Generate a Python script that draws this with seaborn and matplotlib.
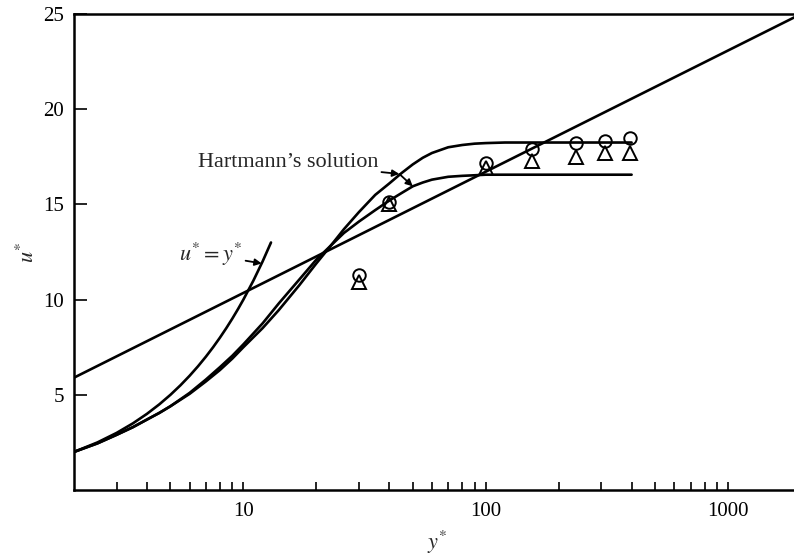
import matplotlib
matplotlib.use("Agg")
import matplotlib.pyplot as plt
import seaborn as sns
from matplotlib.ticker import FixedLocator, NullFormatter, FixedFormatter

# ---- data ----
loglaw_y = [2, 2000]
loglaw_u = [5.9, 25.0]

linear_y = [2, 2.5, 3, 3.5, 4, 4.5, 5, 5.5, 6, 6.5, 7, 7.5, 8, 8.5, 9, 9.5, 10, 11, 12, 13]
linear_u = [2, 2.5, 3, 3.5, 4, 4.5, 5, 5.5, 6, 6.5, 7, 7.5, 8, 8.5, 9, 9.5, 10, 11, 12, 13]

hart_y = [2, 2.5, 3, 3.5, 4, 4.5, 5, 6, 7, 8, 9, 10, 12, 14, 17, 20, 23, 26, 30, 35, 40, 45,
          50, 55, 60, 70, 80, 90, 100, 120, 150, 200, 300, 400]
hart_upper_u = [2.0, 2.45, 2.9, 3.3, 3.7, 4.05, 4.4, 5.05, 5.7, 6.3, 6.9, 7.5, 8.5, 9.45, 10.75, 11.9,
                12.85, 13.7, 14.6, 15.5, 16.1, 16.65, 17.1, 17.45, 17.7, 18.0, 18.12, 18.19, 18.22,
                18.25, 18.25, 18.25, 18.25, 18.25]
hart_lower_u = [2.0, 2.45, 2.9, 3.3, 3.7, 4.05, 4.4, 5.1, 5.8, 6.45, 7.05, 7.65, 8.75, 9.8, 11.05, 12.1,
                12.85, 13.5, 14.1, 14.7, 15.2, 15.6, 15.95, 16.15, 16.3, 16.45, 16.5, 16.53, 16.56,
                16.56, 16.56, 16.56, 16.56, 16.56]

exp_y = [30, 40, 100, 155, 235, 310, 395]
circle_u = [11.3, 15.1, 17.2, 17.9, 18.25, 18.35, 18.5]
triangle_u = [10.9, 15.0, 16.9, 17.3, 17.5, 17.7, 17.7]

x_ticks = [10, 100, 1000]
x_ticklabels = ["10", "100", "1000"]
x_minor = [3, 4, 5, 6, 7, 8, 9, 20, 30, 40, 50, 60, 70, 80, 90, 200, 300, 400, 500, 600, 700, 800, 900]
y_ticks = [5, 10, 15, 20, 25]

# ---- style ----
sns.set_theme(style="ticks")
plt.rcParams["font.family"] = ["Liberation Serif", "DejaVu Serif"]
plt.rcParams["mathtext.fontset"] = "stix"

W, H = 794, 557
fig = plt.figure(figsize=(W / 100, H / 100), dpi=100)
ax = fig.add_axes([74 / W, 1 - 490 / H, (801 - 74) / W, (490 - 14) / H])

lw = 1.9
kw = dict(color="black", linewidth=lw, estimator=None, sort=False, ax=ax, legend=False)
sns.lineplot(x=loglaw_y, y=loglaw_u, **kw)
sns.lineplot(x=linear_y, y=linear_u, **kw)
sns.lineplot(x=hart_y, y=hart_upper_u, **kw)
sns.lineplot(x=hart_y, y=hart_lower_u, **kw)

mk = dict(estimator=None, sort=False, ax=ax, legend=False, linestyle="", color="black",
          markerfacecolor="none", markeredgecolor="black", markeredgewidth=1.4)
sns.lineplot(x=exp_y, y=circle_u, marker="o", markersize=9, **mk)
sns.lineplot(x=exp_y, y=triangle_u, marker="^", markersize=9.5, **mk)

ax.set_xscale("log")
ax.set_xlim(2, 2000)
ax.set_ylim(0, 25)

ax.xaxis.set_major_locator(FixedLocator(x_ticks))
ax.xaxis.set_major_formatter(FixedFormatter(x_ticklabels))
ax.xaxis.set_minor_locator(FixedLocator(x_minor))
ax.xaxis.set_minor_formatter(NullFormatter())
ax.yaxis.set_major_locator(FixedLocator(y_ticks))
ax.yaxis.set_minor_locator(FixedLocator([]))

ax.tick_params(axis="x", which="both", direction="in", length=6, width=1.2, pad=9,
               labelsize=15, colors="black")
ax.tick_params(axis="y", which="both", direction="in", length=9.5, width=1.2, pad=7,
               labelsize=15, colors="black")

for side in ["left", "bottom", "top"]:
    ax.spines[side].set_linewidth(1.8)
    ax.spines[side].set_color("black")
ax.spines["right"].set_visible(False)

ax.set_xlabel("$y^{*}$", fontsize=16, labelpad=5)
ax.set_ylabel("$u^{*}$", fontsize=16, labelpad=3)

arrow = dict(arrowstyle="-|>", color="black", lw=1.3, shrinkA=0, shrinkB=0, mutation_scale=10)
ax.annotate("Hartmann\u2019s solution", xy=(44, 16.6), xytext=(36, 17.2),
            ha="right", va="center", fontsize=16, arrowprops=arrow)
ax.annotate("", xy=(50, 15.95), xytext=(44, 16.6), arrowprops=arrow)
ax.annotate("$u^{*}=y^{*}$", xy=(11.9, 11.9), xytext=(9.9, 12.35),
            ha="right", va="center", fontsize=16, arrowprops=arrow)

fig.savefig("out.png", dpi=100)
